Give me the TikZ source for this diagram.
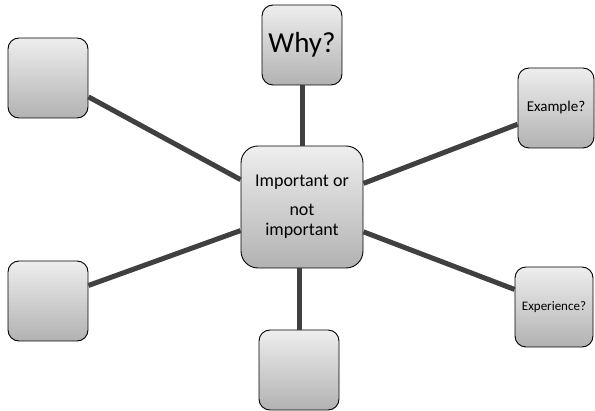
\documentclass[tikz,border=0pt]{standalone}
\usepackage{fontspec}
\setmainfont{Carlito}
\definecolor{boxtop}{RGB}{238,238,238}
\definecolor{boxbottom}{RGB}{178,178,178}
\definecolor{spoke}{RGB}{64,64,64}

\begin{document}
\begin{tikzpicture}[x=1pt, y=-1pt,
  box/.style={draw=black, line width=0.9pt, rounded corners=11pt,
    top color=boxtop, bottom color=boxbottom, inner sep=0pt,
    align=center, minimum width=80pt, minimum height=80pt},
  spokeline/.style={spoke, line width=5pt}]

\useasboundingbox (0,0) rectangle (595,411);

% ===== Central box =====
\node[box, rounded corners=17pt, minimum width=122pt, minimum height=122pt,
  font=\fontsize{18}{20}\selectfont] (topic) at (302,207)
  {Important or\\[9pt] not\\ important};

% ===== Outer boxes =====
\node[box, font=\fontsize{29}{32}\selectfont] (why) at (302,45) {Why?};
\node[box] (lefttop) at (48,78) {};
\node[box] (leftbottom) at (48,301) {};
\node[box] (bottom) at (299,370) {};
\node[box, minimum width=76pt, font=\fontsize{15}{17}\selectfont]
  (example) at (556,108) {Example?};
\node[box, minimum width=78pt, font=\fontsize{13}{15}\selectfont]
  (experience) at (554,307) {Experience?};

% ===== Spokes =====
\draw[spokeline] (topic.north) -- (why.south);
\draw[spokeline] (bottom.north) -- (bottom.north |- topic.south);
\draw[spokeline] (topic.156) -- (lefttop.-25);
\draw[spokeline] (topic.201) -- (leftbottom.21);
\draw[spokeline] (topic.21) -- (example.203);
\draw[spokeline] (topic.-22) -- (experience.156);

\end{tikzpicture}
\end{document}
